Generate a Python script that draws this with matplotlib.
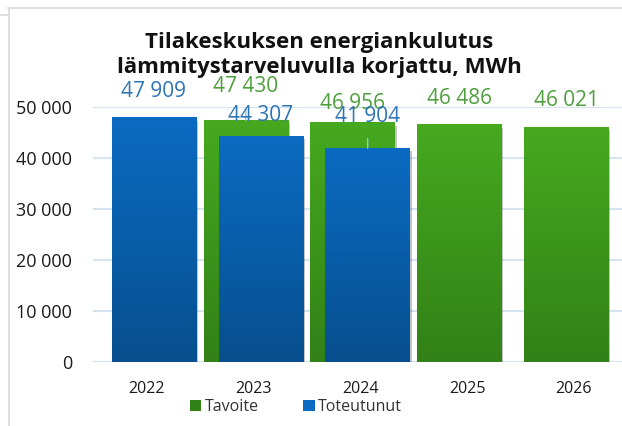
import numpy as np
import matplotlib
matplotlib.use('Agg')
from matplotlib import pyplot as plt
from matplotlib.colors import LinearSegmentedColormap
from matplotlib.lines import Line2D
from matplotlib.patches import Patch
import matplotlib.patheffects as pe

# data
years = ['2022', '2023', '2024', '2025', '2026']
tavoite = [None, 47430, 46956, 46486, 46021]
toteutunut = [47909, 44307, 41904, None, None]

# label offsets above bar tops (MWh), hand placed like in the original
tav_off = [None, 6590, 3730, 5180, 5160]
tot_off = [5130, 4120, 6140, None, None]
tav_leader = [False, True, False, False, False]
tot_leader = [False, False, True, False, False]

GREEN_TOP, GREEN_BOT = '#46A91F', '#328117'
BLUE_TOP, BLUE_BOT = '#0B6BC2', '#074F8E'
GREEN_TXT, BLUE_TXT = '#4E9F3D', '#2E75B6'

plt.rcParams['font.family'] = ['Open Sans', 'DejaVu Sans']

fig = plt.figure(figsize=(6.22, 4.26), dpi=100)
ax = fig.add_axes([93 / 622, 64 / 426, 1 - 93 / 622, (362 - 107) / 426])

W = 0.79
DX = 0.07
grad = np.linspace(0, 1, 256).reshape(-1, 1)


def grad_bar(x, h, c_top, c_bot, z):
    b = ax.bar(x, h, W, color=c_bot, zorder=z, linewidth=0)[0]
    b.set_path_effects([pe.SimplePatchShadow(offset=(1.2, -2.2), shadow_rgbFace='#555555', alpha=0.35),
                        pe.Normal()])
    cmap = LinearSegmentedColormap.from_list('g', [c_bot, c_top])
    ax.imshow(grad, cmap=cmap, origin='lower', aspect='auto',
              extent=(x - W / 2, x + W / 2, 0, h), zorder=z + 0.01)


def label(x, v, off, color, leader):
    txt = f'{v:,}'.replace(',', ' ')
    ap = None
    if leader:
        ap = dict(arrowstyle='-', color='#9DC3E6', lw=1.0, shrinkA=6, shrinkB=0)
    ax.annotate(txt, xy=(x, v), xytext=(x, v + off), ha='center', va='center',
                fontsize=15, color=color, annotation_clip=False, arrowprops=ap,
                zorder=10)


for i, v in enumerate(tavoite):
    if v is not None:
        grad_bar(i - DX, v, GREEN_TOP, GREEN_BOT, 2)
for i, v in enumerate(toteutunut):
    if v is not None:
        grad_bar(i + DX, v, BLUE_TOP, BLUE_BOT, 3)

for i, v in enumerate(tavoite):
    if v is not None:
        label(i - DX, v, tav_off[i], GREEN_TXT, tav_leader[i])
for i, v in enumerate(toteutunut):
    if v is not None:
        label(i + DX, v, tot_off[i], BLUE_TXT, tot_leader[i])

ax.set_xlim(-0.5, 4.45)
ax.set_ylim(0, 50000)
ax.set_yticks(range(0, 50001, 10000))
ax.set_yticklabels([f'{t:,}'.replace(',', ' ') for t in range(0, 50001, 10000)])
ax.set_xticks(range(len(years)))
ax.set_xticklabels(years)
ax.yaxis.grid(True, color='#D6E4F2', lw=1.6, zorder=0)
ax.set_axisbelow(True)
for s in ax.spines.values():
    s.set_visible(False)
ax.tick_params(axis='y', length=0, pad=15, labelsize=13, labelcolor='#1a1a1a')
ax.tick_params(axis='x', length=0, pad=14, labelsize=11.5, labelcolor='#1a1a1a')

fig.text(319 / 622, 1 - 55 / 426,
         'Tilakeskuksen energiankulutus\nlämmitystarveluvulla korjattu, MWh',
         ha='center', va='center', fontsize=16, fontweight='bold',
         linespacing=1.2, color='#111111')

handles = [Patch(facecolor=GREEN_BOT, edgecolor='none'),
           Patch(facecolor=BLUE_TOP, edgecolor='none')]
fig.legend(handles, ['Tavoite', 'Toteutunut'], loc='center', ncol=2,
           bbox_to_anchor=(296 / 622, 1 - 407 / 426), frameon=False,
           fontsize=11.5, labelcolor='#333333', handlelength=0.7,
           handleheight=0.7, handletextpad=0.2, columnspacing=2.8)

# chart frame
fig.add_artist(Line2D([8 / 622, 1], [1 - 8 / 426] * 2, color='#D9D9D9', lw=1.2))
fig.add_artist(Line2D([9 / 622] * 2, [0, 1 - 8 / 426], color='#D9D9D9', lw=1.2))
fig.add_artist(Line2D([0, 8 / 622], [1 - 15 / 426] * 2, color='#D9D9D9', lw=1.2))

fig.savefig('out.png', dpi=100)
